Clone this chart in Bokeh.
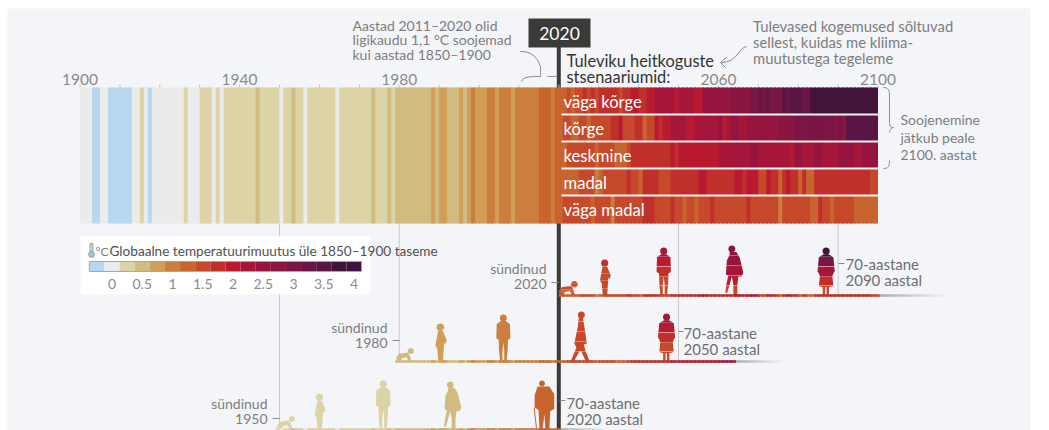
import math
from bokeh.plotting import figure
from bokeh.models import Range1d
from bokeh.core.properties import value
from bokeh.embed import file_html
from bokeh.resources import INLINE

# ---------- data (warming in deg C, read from the stripes, one value per year) ----------
BIN_VALUES = [-0.25, 0, 0.25, 0.5, 0.75, 1, 1.25, 1.5, 1.75, 2, 2.25, 2.5, 2.75, 3, 3.25, 3.5, 3.75, 4]
BIN_COLORS = ["#b8d7f1", "#ebebeb", "#dcd3a7", "#d2bb80", "#d19e57", "#cb7f3e", "#c8652f", "#c6492b",
              "#c0302b", "#b91a2f", "#a5163a", "#961540", "#8a1541", "#7a1644", "#691645", "#581545",
              "#431439", "#3d1340"]
LEGEND_TICKS = [0, 0.5, 1, 1.5, 2, 2.5, 3, 3.5, 4]
LEGEND_LABELS = ["0", "0.5", "1", "1.5", "2", "2.5", "3", "3.5", "4"]
YEAR_TICKS = [1900, 1940, 1980, 2060, 2100]
YEAR_LABELS = ["1900", "1940", "1980", "2060", "2100"]
MINOR_TICKS = [1900, 1910, 1920, 1930, 1940, 1950, 1960, 1970, 1980, 1990, 2000, 2010, 2020,
               2030, 2040, 2050, 2060, 2070, 2080, 2090, 2100]

historical = [
    0, 0, 0, -.25, -.25, 0, 0, -.25, -.25, -.25,           # 1900
    -.25, -.25, -.25, 0, 0, .25, 0, -.25, 0, 0,            # 1910
    0, 0, 0, 0, 0, 0, .25, 0, 0, 0,                        # 1920
    .25, .25, .25, 0, .25, 0, .25, .25, .25, .25,          # 1930
    .25, .25, .25, .25, .5, .25, .25, .25, .25, .25,       # 1940
    0, .25, .25, .5, .25, .25, 0, .25, .25, .25,           # 1950
    .25, .25, .25, .25, 0, .25, .25, .25, .25, .25,        # 1960
    .25, .25, .25, .5, .25, .25, .25, .5, .25, .5,         # 1970
    .5, .5, .5, .5, .5, .5, .5, .5, .75, .5,               # 1980
    .75, .75, .5, .5, .5, .75, .5, .75, 1, .75,            # 1990
    .75, .75, 1, 1, .75, 1, 1, 1, .75, 1,                  # 2000
    1, 1, 1, 1, 1, 1.25, 1.25, 1.25, 1, 1.25,              # 2010
]
very_high = [
    1.25, 1.25, 1.5, 1.25, 1.5, 1.5, 1.75, 1.5, 1.75, 1.5,
    1.75, 1.75, 1.75, 1.75, 1.75, 1.5, 1.75, 1.75, 2, 2,
    1.75, 1.75, 2, 2, 2.25, 2.25, 2.25, 2.25, 2.25, 2,
    2.25, 2.25, 2.25, 2.25, 2, 2, 2.5, 2.5, 2.5, 2.5,
    2.5, 2.5, 2.5, 2.75, 2.75, 2.75, 2.75, 2.75, 3, 3,
    3.25, 3, 3.25, 3, 3, 3, 3.5, 3.25, 3.5, 3.5,
    3.5, 3.25, 3.25, 3.75, 3.75, 3.75, 3.75, 3.75, 3.75, 3.75,
    3.75, 3.75, 3.75, 3.75, 3.75, 3.75, 3.75, 3.75, 3.75, 3.75,
]
high = [
    1.25, 1.5, 1.5, 1.25, 1.25, 1.5, 1.5, 1.25, 1.5, 1.5,
    1.5, 1.5, 1.5, 1.75, 1.75, 2, 1.5, 1.5, 1.5, 1.75,
    1.75, 1.25, 1.5, 1.5, 2, 1.75, 2, 2, 2.25, 2.25,
    2.25, 2.25, 2, 2, 2.25, 2.25, 2.25, 2.25, 2.25, 2.25,
    2.5, 2, 2.25, 2.5, 2.5, 2.25, 2.25, 2.5, 2.5, 2.5,
    2.5, 2.5, 2.5, 2.5, 2.5, 2.75, 2.75, 2.75, 2.75, 3,
    3, 3, 3, 3, 3, 3, 3, 3, 3, 2.75,
    3, 2.75, 3.5, 3.5, 3.5, 3.5, 3.5, 3.5, 3.5, 3.5,
]
medium = [
    1.25, 1.25, 1.5, 1.5, 1.5, 1.5, 1.5, 1.5, 1.5, 1.25,
    1.5, 1.5, 1.5, 1.5, 1.25, 1.25, 1.25, 1.5, 1.75, 1.75,
    1.75, 1.75, 1.75, 1.75, 1.75, 1.75, 1.75, 1.75, 2, 1.75,
    2, 2, 2, 2, 2, 2, 2, 2, 2, 2,
    2.25, 2.25, 2.25, 2.25, 2.25, 2.25, 2.25, 2.25, 2.5, 2.5,
    2.25, 2.25, 2.25, 2.25, 2.25, 2.25, 2.25, 2.25, 2, 2.5,
    2.5, 2.25, 2.25, 2.25, 2.5, 2.5, 2.25, 2.25, 2.25, 2.25,
    2.5, 2.5, 2.5, 2.5, 2.25, 2.25, 2.5, 2.5, 2.5, 2.5,
]
low = [
    1.25, 1.25, 1.25, 1.25, 1.25, 1.5, 1.5, 1.5, 1.5, 1,
    1.25, 1.5, 1.5, 1.5, 1.5, 1.5, 1.5, 1.75, 1.5, 1.5,
    1.25, 1.75, 1.75, 1.75, 1.75, 1.5, 1.5, 1.5, 1.75, 1.75,
    1.75, 1.75, 1.75, 1.75, 1.75, 2, 2, 1.75, 1.75, 1.75,
    1.75, 1.75, 1.75, 1.75, 2, 2, 1.75, 2, 2, 2,
    1.5, 1.5, 2, 1.75, 1.75, 1.25, 1.75, 2, 1.75, 1.75,
    1.25, 1.75, 1.25, 1.25, 1.75, 1.75, 1.75, 1.75, 1.75, 1.75,
    1.75, 1.75, 1.75, 1.75, 1.75, 1.75, 1.75, 1.75, 1.5, 1.5,
]
very_low = [
    1.25, 1.5, 1.5, 1.5, 1.5, 1.5, 1.5, 1.5, 1.25, 1.5,
    1.5, 1.5, 1.5, 1, 1.5, 1.5, 1.5, 1.5, 1.5, 1.5,
    1.5, 1.75, 1.75, 1.75, 1.5, 1.5, 1.5, 1.5, 1.75, 1.5,
    1.5, 1.25, 1.5, 1.5, 1.25, 1.5, 1.5, 1.5, 1.75, 1.5,
    1.5, 1.5, 1.5, 1.5, 1.5, 1.5, 1.5, 1.75, 1.5, 1.5,
    1.5, 1.5, 1.5, 1.5, 1.5, 1, 1.5, 1.5, 1.5, 1.5,
    1.5, 1.5, 1.5, 1.25, 1.25, 1.75, 1.5, 1.5, 1.25, 1.5,
    1.5, 1.5, 1.5, 1.5, 1.25, 1.25, 1.25, 1.25, 1.25, 1.25,
]
SCENARIOS = [very_high, high, medium, low, very_low]
SCENARIO_LABELS = ["väga kõrge", "kõrge", "keskmine", "madal", "väga madal"]

BIRTH_YEARS = [2020, 1980, 1950]
BIRTH_LABELS = ["2020", "1980", "1950"]
END_LABELS = ["2090 aastal", "2050 aastal", "2020 aastal"]
GENERATION_AGES = [[2.4, 11.5, 26.3, 44, 67], [1.5, 10.3, 26.1, 45.4, 67], [1.7, 10, 26, 43.4, 66.4]]
GENERATION_SHAPES = [["baby", "child", "adult", "coat", "woman"],
                     ["baby", "child", "adult", "walker", "woman"],
                     ["baby", "child", "adult", "coat", "elder"]]

# ---------- layout ----------
W, H = 1049, 430
X0, Y0 = 0, 0
PX_PER_YEAR = 3.99
X_1900 = 79.5
LEG_0, LEG_SCALE = 111.5, 60.5

GRAY = "#7d7d7d"
DARK = "#3a3a38"
FONT = "Lato"


def px_to_year(px):
    return 1900 + (px - X_1900) / PX_PER_YEAR


p = figure(width=W, height=H, output_backend="svg", toolbar_location=None,
           x_range=Range1d(px_to_year(X0), px_to_year(X0 + W)),
           y_range=Range1d(Y0 + H, Y0),
           x_axis_location=None, y_axis_location=None,
           min_border=0, min_border_left=0, min_border_right=0, min_border_top=0, min_border_bottom=0)
p.extra_x_ranges = {
    "px": Range1d(X0, X0 + W),
    "leg": Range1d((X0 - LEG_0) / LEG_SCALE, (X0 + W - LEG_0) / LEG_SCALE),
}
p.grid.visible = False
p.outline_line_color = None
p.background_fill_color = "#ffffff"
p.border_fill_color = "#ffffff"


def color_of(v):
    return BIN_COLORS[BIN_VALUES.index(v)]


def txt(x, y, lines, size=14, color=GRAY, align="left", step=15, style="normal", baseline="middle"):
    ys = [y + i * step for i in range(len(lines))]
    p.text(x=[x] * len(lines), y=ys, text=lines, x_range_name="px",
           text_font=value(FONT), text_font_size=value(f"{size}px"), text_color=color,
           text_align=align, text_baseline=baseline, text_font_style=style)


# panel
p.quad(left=[7], right=[1030], top=[8], bottom=[430], x_range_name="px",
       fill_color="#f4f5f9", line_color=None)

# thin guides from decades down to the generations
GUIDE_YEARS = [1950, 1980, 2050, 2090]
GUIDE_BOTTOMS = [430, 361, 361, 295]
p.segment(x0=GUIDE_YEARS, x1=GUIDE_YEARS, y0=[223] * 4, y1=GUIDE_BOTTOMS, line_color="#c9c9c7", line_width=1)

# 2020 marker line
p.segment(x0=[2020], x1=[2020], y0=[46], y1=[430], line_color=DARK, line_width=4)

# ticks and year labels
p.segment(x0=MINOR_TICKS, x1=MINOR_TICKS, y0=[84] * len(MINOR_TICKS), y1=[87.5] * len(MINOR_TICKS),
          line_color="#c4c4c4", line_width=1)
p.text(x=YEAR_TICKS, y=[78.5] * len(YEAR_TICKS), text=YEAR_LABELS, text_font=value(FONT),
       text_font_size=value("15.5px"), text_color="#8b8b8b", text_align="center", text_baseline="middle")

# historic stripes (each stripe runs slightly under the next so no seam shows)
hist_years = list(range(1900, 1900 + len(historical)))
p.quad(left=hist_years, right=[y + 1.4 for y in hist_years], top=[87] * len(hist_years),
       bottom=[223] * len(hist_years), fill_color=[color_of(v) for v in historical], line_color=None)

# scenario stripes
ROW_TOPS = [87, 114, 141, 168, 195]
ROW_BOTS = [114, 141, 168, 195, 223]
for series, top, bot in zip(SCENARIOS, ROW_TOPS, ROW_BOTS):
    yrs = list(range(2020, 2020 + len(series)))
    p.quad(left=yrs, right=[min(y + 1.4, 2100) for y in yrs], top=[top] * len(yrs), bottom=[bot] * len(yrs),
           fill_color=[color_of(v) for v in series], line_color=None)
p.segment(x0=[561] * 4, x1=[878] * 4, y0=ROW_BOTS[:4], y1=ROW_BOTS[:4], x_range_name="px",
          line_color="#f5f3f3", line_width=2)
for label, top, bot in zip(SCENARIO_LABELS, ROW_TOPS, ROW_BOTS):
    txt(563, (top + bot) / 2 + 0.5, [label], size=16.6, color="#ffffff")


# ---------- 2020 box and annotations ----------
p.quad(left=[528], right=[590], top=[18], bottom=[47], x_range_name="px", fill_color=DARK, line_color=None)
txt(559, 32.5, ["2020"], size=17.5, color="#ffffff", align="center")
txt(352, 24.5, ["Aastad 2011–2020 olid", "ligikaudu 1,1 °C soojemad", "kui aastad 1850–1900"], size=14, step=14.5)
txt(566, 60, ["Tuleviku heitkoguste", "stsenaariumid:"], size=16.4, color="#333333", step=15.5)
txt(752.5, 25, ["Tulevased kogemused sõltuvad", "sellest, kuidas me kliima-", "muutustega tegeleme"], size=14.8, step=16)
txt(900, 119, ["Soojenemine", "jätkub peale", "2100. aastat"], size=14, step=17.5)

CURVE = dict(line_color="#8b8b8b", line_width=1, x_range_name="px")
p.bezier(x0=[520, 540, 540, 547, 883, 889, 889, 893, 889],
         y0=[51, 66, 76, 76, 87, 95, 122, 127, 160],
         x1=[540, 540, 521, 557, 889, 889, 893, 889, 883],
         y1=[66, 76, 81, 76, 95, 122, 127, 132, 168],
         cx0=[530, 540, 531, 550, 888, 889, 889, 890, 889],
         cy0=[51, 70, 76, 76, 87, 105, 126, 127, 166],
         cx1=[536, 540, 522, 553, 889, 889, 890, 889, 888],
         cy1=[55, 74, 76, 76, 90, 115, 127, 131, 168], **CURVE)
p.bezier(x0=[746], y0=[46], x1=[721], y1=[62], cx0=[738], cy0=[47], cx1=[737], cy1=[62], **CURVE)
p.segment(x0=[720, 720], y0=[62, 62], x1=[726, 725], y1=[57, 67], **CURVE)
p.segment(x0=[551, 392, 272, 838, 678, 559], x1=[558, 399, 279, 844, 683, 565],
          y0=[282, 340, 418, 263, 331, 400], y1=[282, 340, 418, 263, 331, 400], **CURVE)

# ---------- legend ----------
p.quad(left=[80], right=[370], top=[236], bottom=[294], x_range_name="px", fill_color="#ffffff", line_color=None)
p.quad(left=[v - 0.125 for v in BIN_VALUES], right=[v + 0.125 for v in BIN_VALUES],
       top=[261] * len(BIN_VALUES), bottom=[271] * len(BIN_VALUES), x_range_name="leg",
       fill_color=BIN_COLORS, line_color=None)
p.quad(left=[BIN_VALUES[0] - 0.125], right=[BIN_VALUES[-1] + 0.125], top=[261], bottom=[271], x_range_name="leg",
       fill_color=None, line_color="#a8a8a8", line_width=1)
p.text(x=LEGEND_TICKS, y=[283] * len(LEGEND_TICKS), text=LEGEND_LABELS, x_range_name="leg",
       text_font=value(FONT), text_font_size=value("14px"), text_color="#8b8b8b",
       text_align="center", text_baseline="middle")
# thermometer icon
p.quad(left=[89.5], right=[92.5], top=[243], bottom=[254], x_range_name="px", fill_color="#cfcfcf", line_color="#8b8b8b", line_width=0.7)
p.scatter(x=[91], y=[254], size=6, x_range_name="px", fill_color="#9cc4e4", line_color="#8b8b8b", line_width=0.7)
txt(95, 250.5, ["°C"], size=12, color=GRAY)
txt(109, 250.5, ["Globaalne temperatuurimuutus üle 1850–1900 taseme"], size=13.6, color="#505050")


# ---------- people ----------
def head(cu, cv, r):
    return [(cu + r * math.cos(2 * math.pi * i / 16), cv + r * math.sin(2 * math.pi * i / 16)) for i in range(16)]


SHAPES = {
    "adult": (1.0, [head(0, .925, .075),
              [(-.05, .86), (.05, .86), (.14, .80), (.15, .50), (.12, .47), (.10, .47), (.09, .22), (.07, .02),
               (.09, 0), (.02, 0), (.02, .22), (0, .40), (-.02, .22), (-.02, 0), (-.09, 0), (-.07, .02),
               (-.09, .22), (-.10, .47), (-.12, .47), (-.15, .50), (-.14, .80)]]),
    "coat": (1.0, [head(-.05, .93, .07),
             [(-.09, .87), (.04, .87), (.11, .75), (.18, .45), (.14, .38), (.08, .38), (.06, .22), (.06, 0),
              (-.02, 0), (-.02, .22), (-.05, .38), (-.14, .06), (-.18, .05), (-.16, .22), (-.12, .40), (-.17, .42),
              (-.15, .70), (-.10, .80)]]),
    "walker": (1.0, [head(.02, .93, .07),
               [(-.03, .88), (.05, .88), (.08, .70), (.13, .36), (.07, .34), (.10, .22), (.18, .02), (.23, 0),
                (.11, 0), (.02, .20), (-.02, .20), (-.12, .02), (-.10, 0), (-.20, 0), (-.16, .08), (-.08, .28),
                (-.12, .36), (-.05, .70)]]),
    "woman": (1.0, [head(0, .925, .075),
              [(-.05, .86), (.05, .86), (.15, .80), (.18, .50), (.15, .46), (.13, .40), (.15, .20), (.06, .17), (.06, 0),
               (.01, 0), (.01, .17), (-.02, .17), (-.02, 0), (-.07, 0), (-.07, .17), (-.15, .20), (-.13, .40),
               (-.15, .46), (-.18, .50), (-.15, .80)]]),
    "child": (1.0, [head(0, .90, .10),
              [(-.06, .80), (.07, .80), (.17, .55), (.13, .45), (.10, .50), (.09, .33), (.07, 0), (-.05, 0),
               (-.08, .33), (-.13, .42), (-.06, .80)]]),
    "baby": (1.0, [head(.40, .75, .22),
             [(-.60, .05), (-.65, .25), (-.45, .55), (.20, .65), (.35, .35), (.45, 0), (.25, 0), (.10, .30),
              (-.20, .25), (-.35, 0)]]),
    "elder": (1.0, [head(-.05, .94, .06),
              [(-.14, .88), (.10, .88), (.20, .72), (.20, .42), (.12, .38), (.10, 0), (.02, 0), (0, .30), (-.04, 0),
               (-.10, 0), (-.12, .40), (-.20, .45), (-.20, .70)],
              [(-.20, .45), (-.22, .45), (-.17, 0), (-.15, 0)]]),
}
GENERATION_GROUND = [295, 361, 429]
GENERATION_HEIGHTS = [[15, 36, 48, 50, 48], [14, 38, 47, 50, 48], [14, 36, 49, 48, 49]]


def clip(poly, lo, hi):
    def cut(pts, keep, cross):
        out = []
        for i, a in enumerate(pts):
            b = pts[(i + 1) % len(pts)]
            if keep(a):
                out.append(a)
            if keep(a) != keep(b):
                t = (cross - a[1]) / (b[1] - a[1])
                out.append((a[0] + t * (b[0] - a[0]), cross))
        return out
    res = cut(poly, lambda q: q[1] >= lo, lo)
    if res:
        res = cut(res, lambda q: q[1] <= hi, hi)
    return res


xs, ys, cols = [], [], []
for g, (birth, ages, shapes) in enumerate(zip(BIRTH_YEARS, GENERATION_AGES, GENERATION_SHAPES)):
    ground, heights = GENERATION_GROUND[g], GENERATION_HEIGHTS[g]
    for age, shape, h in zip(ages, shapes, heights):
        year = birth + age
        idx = int(year)
        _, parts = SHAPES[shape]
        for part in parts:
            if year < 2020:
                bands = [(0, 1, color_of(historical[idx - 1900]))]
            else:
                bands = [((4 - i) / 5 + (0.007 if i < 4 else 0), (5 - i) / 5 + (0.2 if i == 0 else 0),
                          color_of(SCENARIOS[i][idx - 2020])) for i in range(5)]
            for lo, hi, col in bands:
                c = clip(part, lo, hi)
                if len(c) >= 3:
                    xs.append([year + u * h / PX_PER_YEAR for u, _v in c])
                    ys.append([ground - v * h for _u, v in c])
                    cols.append(col)
p.patches(xs=xs, ys=ys, fill_color=cols, line_color=None)

# ground lines
GROUND_SERIES = [low, medium, very_low]
GROUND_END = [2100, 2064, 2020]
GROUND_FADE = [17, 12, 12]
for birth, series, end, fade, ground in zip(BIRTH_YEARS, GROUND_SERIES, GROUND_END, GROUND_FADE, GENERATION_GROUND):
    yrs = list(range(birth - (0 if birth == 2020 else 1), end))
    vals = [historical[y - 1900] if y < 2020 else series[y - 2020] for y in yrs]
    fy = list(range(end, end + fade))
    p.segment(x0=fy, x1=[y + 1 for y in fy], y0=[ground] * fade, y1=[ground] * fade, line_color="#999999",
              line_width=2.5, line_alpha=[0.8 * (1 - i / fade) for i in range(fade)])
    p.segment(x0=yrs, x1=[y + 1.4 for y in yrs], y0=[ground] * len(yrs), y1=[ground] * len(yrs),
              line_color=[color_of(v) for v in vals], line_width=2.5)

# generation labels
LEFT_X = [546, 387, 267]
LEFT_Y = [268, 327, 403]
RIGHT_X = [845, 683, 566]
RIGHT_Y = [263.5, 332, 402]
for bl, el, lx, ly, rx, ry in zip(BIRTH_LABELS, END_LABELS, LEFT_X, LEFT_Y, RIGHT_X, RIGHT_Y):
    txt(lx, ly, ["sündinud", bl], size=14, align="right", step=15)
    txt(rx, ry, ["70-aastane", el], size=15, color="#6f6f6f", step=16)

open("out.html", "w").write(file_html(p, INLINE))
